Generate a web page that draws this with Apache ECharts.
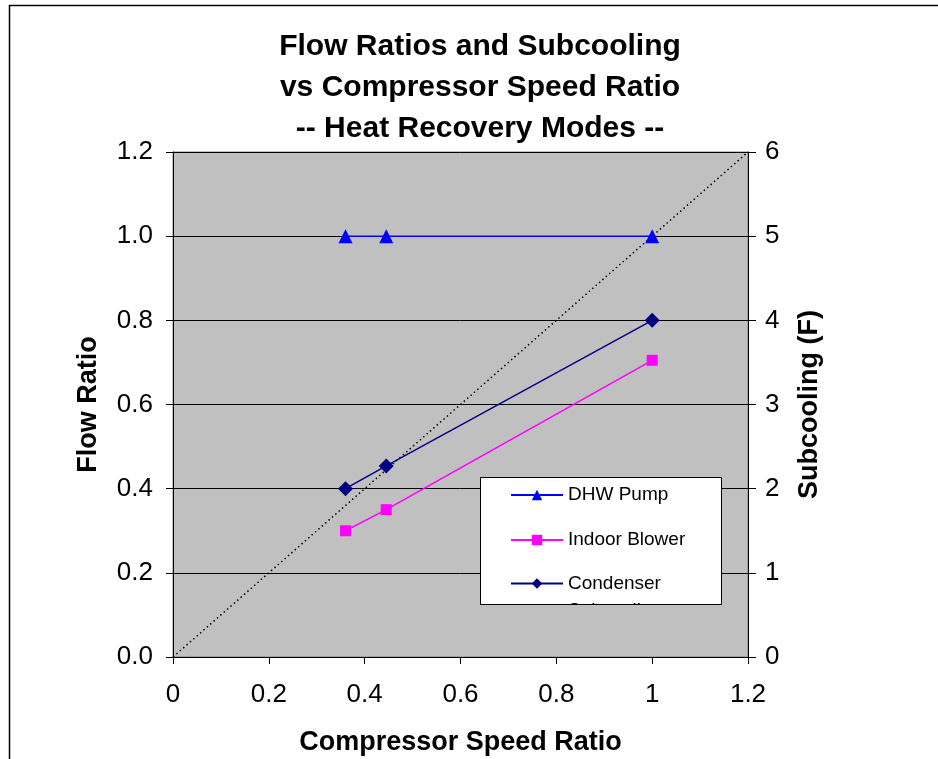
<!DOCTYPE html>
<html><head><meta charset="utf-8">
<script src="https://cdn.jsdelivr.net/npm/echarts@6/dist/echarts.min.js"></script>
<style>html,body{margin:0;padding:0;background:#fff}#c{width:938px;height:759px}</style>
</head><body><div id="c"></div>
<script>
const titleLines = ['Flow Ratios and Subcooling', 'vs Compressor Speed Ratio', '-- Heat Recovery Modes --'];
const speedRatio = [0.36, 0.445, 1.0];
const dhwPump = [1.0, 1.0, 1.0];
const indoorBlower = [0.30, 0.35, 0.705];
const condenserSubcooling = [2.0, 2.27, 4.0];
const diagonal = [[0, 0], [1.2, 1.2]];
const seriesNames = ['DHW Pump', 'Indoor Blower', 'Condenser Subcooling'];
const xName = 'Compressor Speed Ratio', yName = 'Flow Ratio', y2Name = 'Subcooling (F)';

const F = 'Liberation Sans, Arial, sans-serif';
const zip = (xs, ys) => xs.map((x, i) => [x, ys[i]]);
const chart = echarts.init(document.getElementById('c'), null, {renderer: 'canvas'});
const legendCommon = {
  orient: 'vertical', left: 510, itemWidth: 52, itemHeight: 13, itemGap: 0,
  textStyle: {fontFamily: F, fontSize: 19, color: '#000', lineHeight: 22}, z: 6,
  padding: 0, selectedMode: false
};
const nameStyle = {fontFamily: F, fontSize: 27, fontWeight: 'bold', color: '#000'};
const labelStyle = {fontFamily: F, fontSize: 26, color: '#000'};
chart.setOption({
  animation: false,
  backgroundColor: '#fff',
  title: {
    text: titleLines.join('\n'), left: 475, top: 21, textAlign: 'center',
    textStyle: {fontFamily: F, fontSize: 30, fontWeight: 'bold', color: '#000', lineHeight: 41}
  },
  grid: {left: 173, top: 152, width: 575, height: 505, containLabel: false, outerBoundsMode: 'none',
    show: true, backgroundColor: '#C0C0C0', borderColor: '#808080', borderWidth: 1},
  xAxis: {
    type: 'value', min: 0, max: 1.2, interval: 0.2,
    name: xName, nameLocation: 'middle', nameGap: 72, nameTextStyle: nameStyle,
    axisLine: {lineStyle: {color: '#000', width: 1}},
    axisTick: {show: true, length: 7, lineStyle: {color: '#000'}},
    axisLabel: Object.assign({margin: 25, formatter: v => String(+v.toFixed(1))}, labelStyle),
    splitLine: {show: false}
  },
  yAxis: [{
    type: 'value', min: 0, max: 1.2, interval: 0.2, position: 'left',
    name: yName, nameLocation: 'middle', nameGap: 71, nameRotate: 90, nameTextStyle: nameStyle,
    axisLine: {show: true, lineStyle: {color: '#000', width: 1}},
    axisTick: {show: true, length: 7, lineStyle: {color: '#000'}},
    axisLabel: Object.assign({margin: 20, formatter: v => v.toFixed(1)}, labelStyle),
    splitLine: {show: true, lineStyle: {color: '#000', width: 1}}
  }, {
    type: 'value', min: 0, max: 6, interval: 1, position: 'right',
    name: y2Name, nameLocation: 'middle', nameGap: 48, nameRotate: 90, nameTextStyle: nameStyle,
    axisLine: {show: true, lineStyle: {color: '#000', width: 1}},
    axisTick: {show: true, length: 8, lineStyle: {color: '#000'}},
    axisLabel: Object.assign({margin: 17}, labelStyle),
    splitLine: {show: false}
  }],
  legend: [
    Object.assign({}, legendCommon, {top: 484, data: [seriesNames[0]]}),
    Object.assign({}, legendCommon, {top: 529, data: [seriesNames[1]]}),
    Object.assign({}, legendCommon, {top: 547, data: [seriesNames[2]],
      formatter: n => '{e| }\n{a|' + n.replace(' ', '}\n{b|') + '}',
      textStyle: {fontFamily: F, fontSize: 19, color: '#000',
        rich: {e: {fontSize: 19, lineHeight: 32, fontFamily: F},
               a: {fontSize: 19, lineHeight: 22, fontFamily: F, color: '#000'},
               b: {fontSize: 19, lineHeight: 32, fontFamily: F, color: '#000'}}}})
  ],
  graphic: [
    {type: 'rect', shape: {x: 9.5, y: 5.5, width: 940, height: 760}, style: {fill: 'none', stroke: '#000', lineWidth: 1.5}, z: 0, silent: true},
    {type: 'rect', shape: {x: 480.5, y: 477.5, width: 241, height: 127}, style: {fill: '#fff', stroke: '#000', lineWidth: 1}, z: 5, silent: true},
    {type: 'rect', shape: {x: 479, y: 605, width: 245, height: 35}, style: {fill: '#C0C0C0'}, z: 50, silent: true},
    {type: 'line', shape: {x1: 480.5, y1: 604.5, x2: 721.5, y2: 604.5}, style: {stroke: '#000', lineWidth: 1}, z: 51, silent: true}
  ],
  series: [
    {type: 'line', data: diagonal, symbol: 'none', silent: true, lineStyle: {color: '#000', width: 1.5, type: [1.5, 3]}, z: 1},
    {name: seriesNames[0], type: 'line', data: zip(speedRatio, dhwPump), symbol: 'triangle', symbolSize: 14,
      itemStyle: {color: '#0000FF'}, lineStyle: {color: '#0000FF', width: 1.5}},
    {name: seriesNames[1], type: 'line', data: zip(speedRatio, indoorBlower), symbol: 'rect', symbolSize: 11,
      itemStyle: {color: '#FF00FF'}, lineStyle: {color: '#FF00FF', width: 1.5}},
    {name: seriesNames[2], type: 'line', yAxisIndex: 1, data: zip(speedRatio, condenserSubcooling), symbol: 'diamond', symbolSize: 15,
      itemStyle: {color: '#000080'}, lineStyle: {color: '#000080', width: 1.5}}
  ]
});
</script></body></html>
